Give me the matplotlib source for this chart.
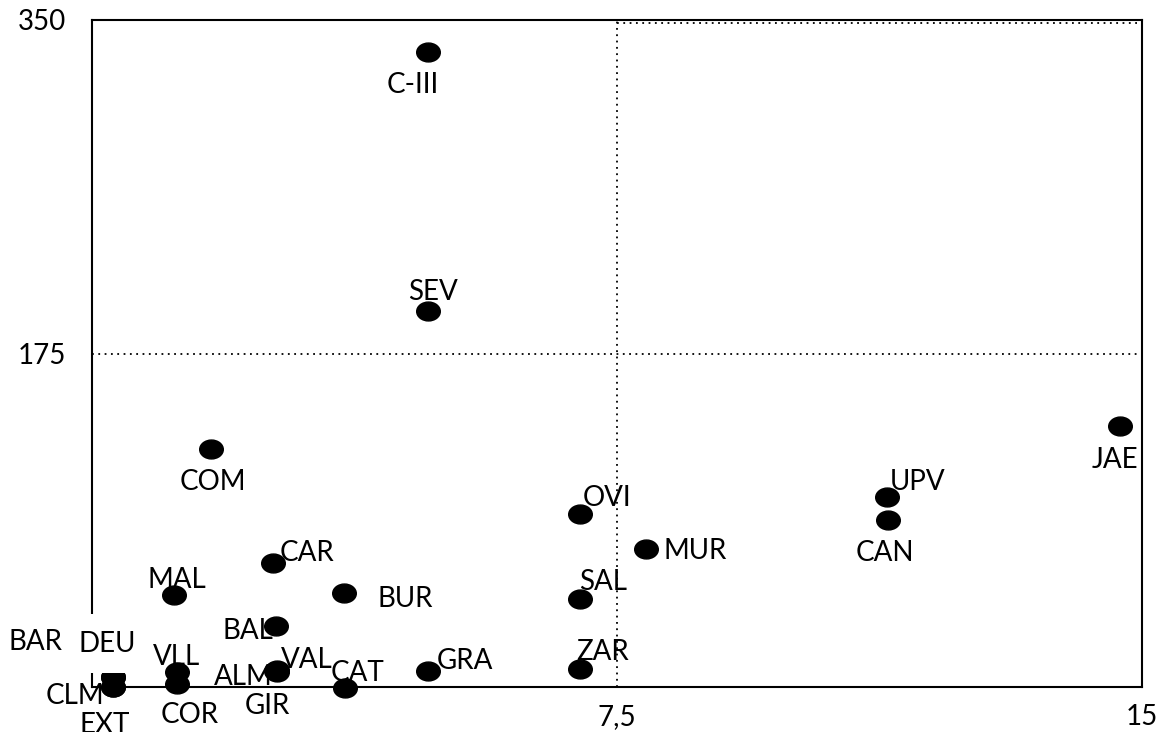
import numpy as np
import matplotlib
matplotlib.use("Agg")
import matplotlib.pyplot as plt
from matplotlib.path import Path

plt.rcParams["font.family"] = ["Lato", "DejaVu Sans"]

# ── data ──────────────────────────────────────────────────────
labels = ["C-III", "SEV", "COM", "JAE", "UPV", "CAN", "OVI", "MUR", "CAR",
          "MAL", "BUR", "SAL", "BAL", "VLL", "COR", "VAL", "ALM", "GIR",
          "CAT", "GRA", "ZAR", "CLM", "EXT", "DEU", "BAR"]
x_vals = [4.80, 4.80, 1.70, 14.69, 11.36, 11.37, 6.97, 7.91, 2.59,
          1.17, 3.60, 6.97, 2.63, 1.21, 1.21, 2.64, 2.63, 2.64,
          3.61, 4.80, 6.97, 0.30, 0.30, 0.30, 0.30]
y_vals = [333.2, 197.3, 124.9, 136.9, 99.7, 87.6, 90.8, 72.4, 65.1,
          48.3, 49.3, 46.2, 32.0, 7.9, 1.6, 8.9, 8.5, 8.0,
          -0.5, 8.4, 9.4, -0.2, -0.2, 5.5, 5.5]

x_ticks = [7.5, 15]
x_ticklabels = ["7,5", "15"]
y_ticks = [175, 350]
y_ticklabels = ["175", "350"]

# label offsets in pixels (dx, dy), screen coordinates (dy positive = up)
offsets = {
    "C-III": (-15, -33), "SEV": (5, 19), "COM": (2, -33), "JAE": (-5, -34),
    "UPV": (30, 15), "CAN": (-3, -33), "OVI": (27, 16), "MUR": (49, -2),
    "CAR": (34, 10), "MAL": (3, 15), "BUR": (61, -6), "SAL": (23, 17),
    "BAL": (-28, -5), "VLL": (0, 15), "COR": (13, -31), "VAL": (30, 10),
    "ALM": (-33, -6), "GIR": (-9, -34), "CAT": (13, 15), "GRA": (37, 10),
    "ZAR": (23, 17), "CLM": (-38, -9), "EXT": (-8, -38), "DEU": (-6, 33),
    "BAR": (-78, 35),
}

fig = plt.figure(figsize=(11.65, 7.32), dpi=100)
ax = fig.add_axes([92 / 1165, 45 / 732, 1050 / 1165, 667 / 732])

# quadrant guides
dots = (0, (1, 2.5))
ax.plot([7.5, 7.5], [0, 350], color="black", ls=dots, lw=1.3, zorder=1)
ax.plot([0, 15], [175, 175], color="black", ls=dots, lw=1.3, zorder=1)
ax.plot([7.5, 15], [348.5, 348.5], color="black", ls=dots, lw=1.3, zorder=1)

# ellipse markers
circ = Path.unit_circle()
ell = Path(circ.vertices * np.array([1.25, 1.0]), circ.codes)
ax.plot(x_vals, y_vals, ls="none", marker=ell, markersize=17, color="black",
        zorder=3, clip_on=False)

for lab, xv, yv in zip(labels, x_vals, y_vals):
    dx, dy = offsets[lab]
    kw = {}
    if lab in ("DEU", "BAR"):
        kw["bbox"] = dict(facecolor="white", edgecolor="none", pad=12)
    ax.annotate(lab, (xv, yv), xytext=(dx * 0.72, dy * 0.72),
                textcoords="offset points", ha="center", va="center",
                fontsize=20, zorder=5, annotation_clip=False, **kw)

ax.set_xlim(0, 15)
ax.set_ylim(0, 350)
ax.set_xticks(x_ticks)
ax.set_xticklabels(x_ticklabels)
ax.set_yticks(y_ticks)
ax.set_yticklabels(y_ticklabels)
ax.tick_params(length=0, labelsize=20)
ax.tick_params(axis="y", pad=19)
ax.tick_params(axis="x", pad=12)
for sp in ax.spines.values():
    sp.set_linewidth(1.5)
    sp.set_zorder(2)

fig.savefig("out.png", dpi=100)
